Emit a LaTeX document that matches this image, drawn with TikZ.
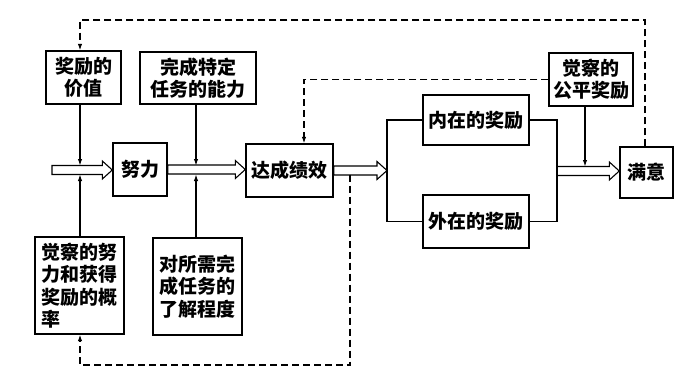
\documentclass[tikz,border=0pt]{standalone}
\usepackage{fontspec}
\setmainfont{Noto Sans CJK SC}
\usetikzlibrary{arrows.meta,calc}
\newcommand\hollowarrow[2]{\draw[hollow] let \p1=(#1), \p2=(#2) in
  (\x1,\y1+4.5pt) -- (\x2-10pt,\y1+4.5pt) -- (\x2-10pt,\y1+9pt) -- (\x2,\y1)
  -- (\x2-10pt,\y1-9pt) -- (\x2-10pt,\y1-4.5pt) -- (\x1,\y1-4.5pt) -- cycle;}
\begin{document}
\begin{tikzpicture}[x=1pt,y=-1pt,
  box/.style={draw,line width=1.4pt,inner sep=0pt,
    font=\fontsize{19}{22.5}\selectfont\bfseries,align=center},
  conn/.style={line width=1.1pt},
  tip/.style={-{Latex[length=6.5pt,width=4.5pt]}},
  fb/.style={line width=1.1pt,dash pattern=on 7pt off 4pt},
  hollow/.style={draw,line width=1.1pt,fill=white}]
\useasboundingbox (0,0) rectangle (678,369);

% nodes
\node[box,minimum width=75pt,minimum height=53pt] (v) at (83.5,77.5) {奖励的\\价值};
\node[box,minimum width=116pt,minimum height=52pt] (A) at (198,78) {完成特定\\任务的能力};
\node[box,minimum width=54pt,minimum height=53pt] (E) at (140,169.5) {努力};
\node[box,minimum width=87pt,minimum height=53pt] (P) at (289.5,170.5) {达成绩效};
\node[box,minimum width=89pt,minimum height=97pt,align=left] (Q) at (79.5,285.5) {觉察的努\\力和获得\\奖励的概\\率};
\node[box,minimum width=89pt,minimum height=97pt] (K) at (197.5,286.5) {对所需完\\成任务的\\了解程度};
\node[box,minimum width=106pt,minimum height=50pt] (I) at (476,120) {内在的奖励};
\node[box,minimum width=106pt,minimum height=53pt] (X) at (476,221.5) {外在的奖励};
\node[box,minimum width=84pt,minimum height=53pt] (F) at (591,79.5) {觉察的\\公平奖励};
\node[box,minimum width=53pt,minimum height=51pt] (S) at (646.5,172.5) {满意};

% coordinates
\coordinate (in0) at (52,170);
\coordinate (j1) at (80,170);
\coordinate (j2) at (196,170);
\coordinate (b1) at (387,170);
\coordinate (b2) at (557,171);
\coordinate (j3) at (585,171);
\coordinate (t1) at (645,20);
\coordinate (t2) at (80,20);
\coordinate (m1) at (304,79.5);
\coordinate (d1) at (350,174.5);
\coordinate (bot) at (80,365);

% hollow arrows
\hollowarrow{in0}{E.west}
\hollowarrow{E.east}{P.west}
\hollowarrow{P.east}{b1}
\hollowarrow{b2}{S.west}

% influence arrows
\draw[conn,tip] (v.south -| j1) -- ($(j1)+(0,-4.5)$);
\draw[conn,tip] (Q.north -| j1) -- ($(j1)+(0,4.5)$);
\draw[conn,tip] (A.south -| j2) -- ($(j2)+(0,-4.5)$);
\draw[conn,tip] (K.north -| j2) -- ($(j2)+(0,4.5)$);
\draw[conn,tip] (F.south -| j3) -- ($(j3)+(0,-4.5)$);

% branches
\draw[conn] (I.west) -- (I.west -| b1) -- (X.west -| b1) -- (X.west);
\draw[conn] (I.east) -- (I.east -| b2) -- (X.east -| b2) -- (X.east);

% feedback dashed
\draw[fb,tip] (S.north -| t1) -- (t1) -- (t2) -- (v.north -| t2);
\draw[fb,tip] (F.west) -- (m1) -- (P.north -| m1);
\draw[fb,tip] (d1) -- (d1 |- bot) -- (bot) -- (Q.south -| bot);
\end{tikzpicture}
\end{document}
